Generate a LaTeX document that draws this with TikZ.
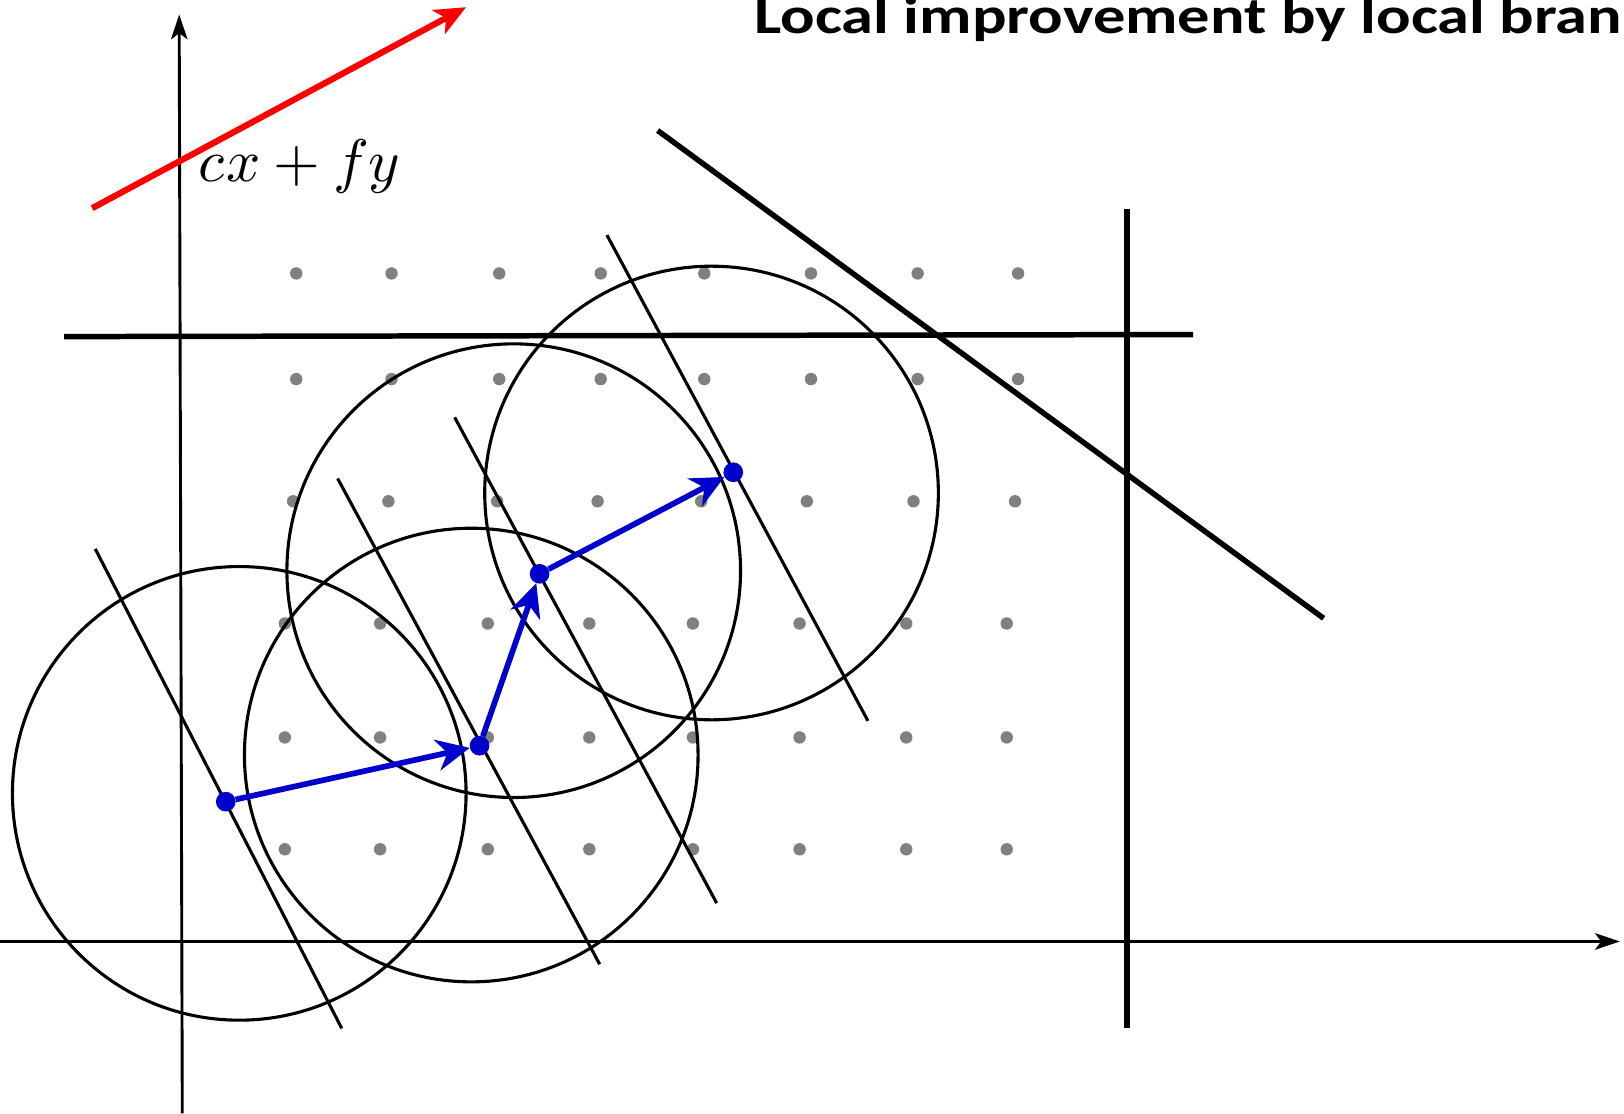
\documentclass[tikz,border=0pt]{standalone}
\usepackage{unicode-math}
\newfontfamily\titlefont{Carlito}
\usetikzlibrary{arrows.meta}
\definecolor{ptblue}{HTML}{0000CC}
\definecolor{dotgray}{HTML}{808080}
\definecolor{objred}{HTML}{FF0000}
\begin{document}
\begin{tikzpicture}[x=1pt,y=-1pt,
  axis/.style={line width=2.8pt,-{Stealth[length=24pt,width=16pt,inset=6pt]}},
  cutline/.style={line width=3pt},
  boundline/.style={line width=5.3pt},
  ring/.style={line width=3pt},
  gdot/.style={circle,fill=dotgray,inner sep=0pt,minimum size=12pt},
  bdot/.style={circle,fill=ptblue,inner sep=0pt,minimum size=19pt},
  move/.style={ptblue,line width=5.5pt,-{Stealth[length=32pt,width=30pt,inset=10pt]}},
  objarrow/.style={objred,line width=6pt,-{Stealth[length=30pt,width=26pt,inset=8pt]}}]
\useasboundingbox (0,0) rectangle (1568,1075);
\clip (0,0) rectangle (1568,1075);

% lattice points
\foreach \y/\xs in {264/{286,378,482,580,680,783,886,983},
                    366/{286,378,482,580,680,783,886,983},
                    484/{283,375,480,577,677,779,882,980},
                    602/{275,367,471,569,669,772,875,972},
                    712/{275,367,471,569,669,772,875,972},
                    820/{275,367,471,569,669,772,875,972}}{
  \foreach \x in \xs { \node[gdot] (d-\x-\y) at (\x,\y) {}; }
}

% axes
\coordinate (xo) at (0,909);
\coordinate (xe) at (1564,909);
\coordinate (yo) at (176,1075);
\coordinate (ye) at (173,14);
\draw[axis] (xo) -- (xe);
\draw[axis] (yo) -- (ye);

% constraint lines
\draw[boundline] (62,325) -- (1152,323);
\draw[boundline] (1088,202) -- (1088,993);
\draw[boundline] (635,126) -- (1278,597);

% local branching cuts
\draw[cutline] (92,530) -- (330,993);
\draw[cutline] (326,462) -- (579,931);
\draw[cutline] (439,403) -- (692,872);
\draw[cutline] (586,227) -- (838,696);

% neighbourhoods
\draw[ring] (231,766) circle[radius=219];
\draw[ring] (455,729) circle[radius=219];
\draw[ring] (496,551) circle[radius=219];
\draw[ring] (687,476) circle[radius=219];

% objective
\coordinate (ro) at (89,201);
\coordinate (re) at (450,7);
\draw[objarrow] (ro) -- (re);
\node[anchor=center,inner sep=0pt,font=\fontsize{58}{60}\selectfont] (obj) at (289,161) {$cx+fy$};

% solution path
\node[bdot] (p1) at (218,774) {};
\node[bdot] (p2) at (463,720) {};
\node[bdot] (p3) at (521,554) {};
\node[bdot] (p4) at (708,456) {};
\draw[move] (p1) -- (p2);
\draw[move] (p2) -- (p3);
\draw[move] (p3) -- (p4);

% title
\node[anchor=base west,inner sep=0pt] (title) at (728,32)
  {\resizebox{838pt}{\height}{\titlefont\bfseries\fontsize{50}{52}\selectfont Local improvement by local bran}};
\end{tikzpicture}
\end{document}
